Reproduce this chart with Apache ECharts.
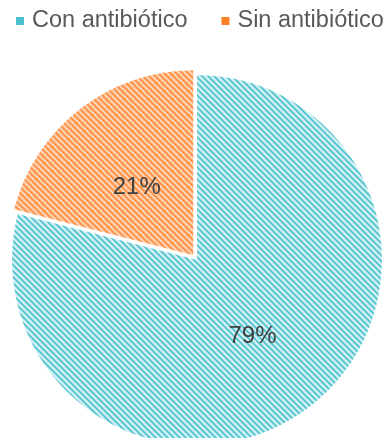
<!DOCTYPE html>
<html>
<head>
<meta charset="utf-8">
<script src="https://cdn.jsdelivr.net/npm/echarts@6/dist/echarts.min.js"></script>
<style>
  html, body { margin: 0; padding: 0; background: #fff; }
  #chart { width: 387px; height: 438px; }
</style>
</head>
<body>
<div id="chart"></div>
<script>
const categories = ['Con antibiótico', 'Sin antibiótico'];
const shares = [79, 21];
const baseColors = ['#4cc0cc', '#ff7f27'];
const labelNudges = [[-3, 1], [2, 8]];

// Soft diagonal hatch tile (stripes running top-left to bottom-right)
function hatch(light, dark, period) {
  const c = document.createElement('canvas');
  c.width = period; c.height = period;
  const ctx = c.getContext('2d');
  const img = ctx.createImageData(period, period);
  const hex = h => [parseInt(h.slice(1,3),16), parseInt(h.slice(3,5),16), parseInt(h.slice(5,7),16)];
  const L = hex(light), D = hex(dark);
  for (let y = 0; y < period; y++) {
    for (let x = 0; x < period; x++) {
      const t = 0.5 + 0.5 * Math.cos(2 * Math.PI * (x - y) / period);
      const k = Math.pow(t, 1.4);
      const i = (y * period + x) * 4;
      for (let ch = 0; ch < 3; ch++) img.data[i + ch] = Math.round(L[ch] + (D[ch] - L[ch]) * k);
      img.data[i + 3] = 255;
    }
  }
  ctx.putImageData(img, 0, 0);
  return { image: c, repeat: 'repeat' };
}

const fills = [
  hatch('#d9f4f7', '#4cc0cc', 6),
  hatch('#ffdcc4', '#ff8128', 6)
];

const chart = echarts.init(document.getElementById('chart'), null, { renderer: 'canvas' });
chart.setOption({
  animation: false,
  legend: {
    data: categories.map((name, i) => ({ name, itemStyle: { color: baseColors[i] } })),
    left: 16,
    top: 9,
    width: 371,
    padding: 0,
    icon: 'rect',
    itemWidth: 8,
    itemHeight: 8,
    itemGap: 34,
    selectedMode: false,
    textStyle: {
      fontSize: 23.5,
      color: '#595959',
      fontFamily: 'Liberation Sans, Arial, sans-serif',
      padding: [0, 0, 0, 3]
    }
  },
  series: [{
    type: 'pie',
    center: [197, 260],
    radius: 185,
    startAngle: 90,
    clockwise: true,
    selectedMode: 'single',
    selectedOffset: 6,
    emphasis: { disabled: true },
    label: {
      position: 'inside',
      formatter: '{d}%',
      fontSize: 24,
      color: '#404040',
      fontFamily: 'Liberation Sans, Arial, sans-serif'
    },
    labelLine: { show: false },
    data: categories.map((name, i) => ({
      name,
      value: shares[i],
      selected: i === 1,
      label: { offset: labelNudges[i] },
      itemStyle: { color: fills[i], borderWidth: 0 },
      select: {
        label: { offset: labelNudges[i] },
        itemStyle: { color: fills[i], borderWidth: 0 }
      }
    }))
  }]
});
</script>
</body>
</html>
